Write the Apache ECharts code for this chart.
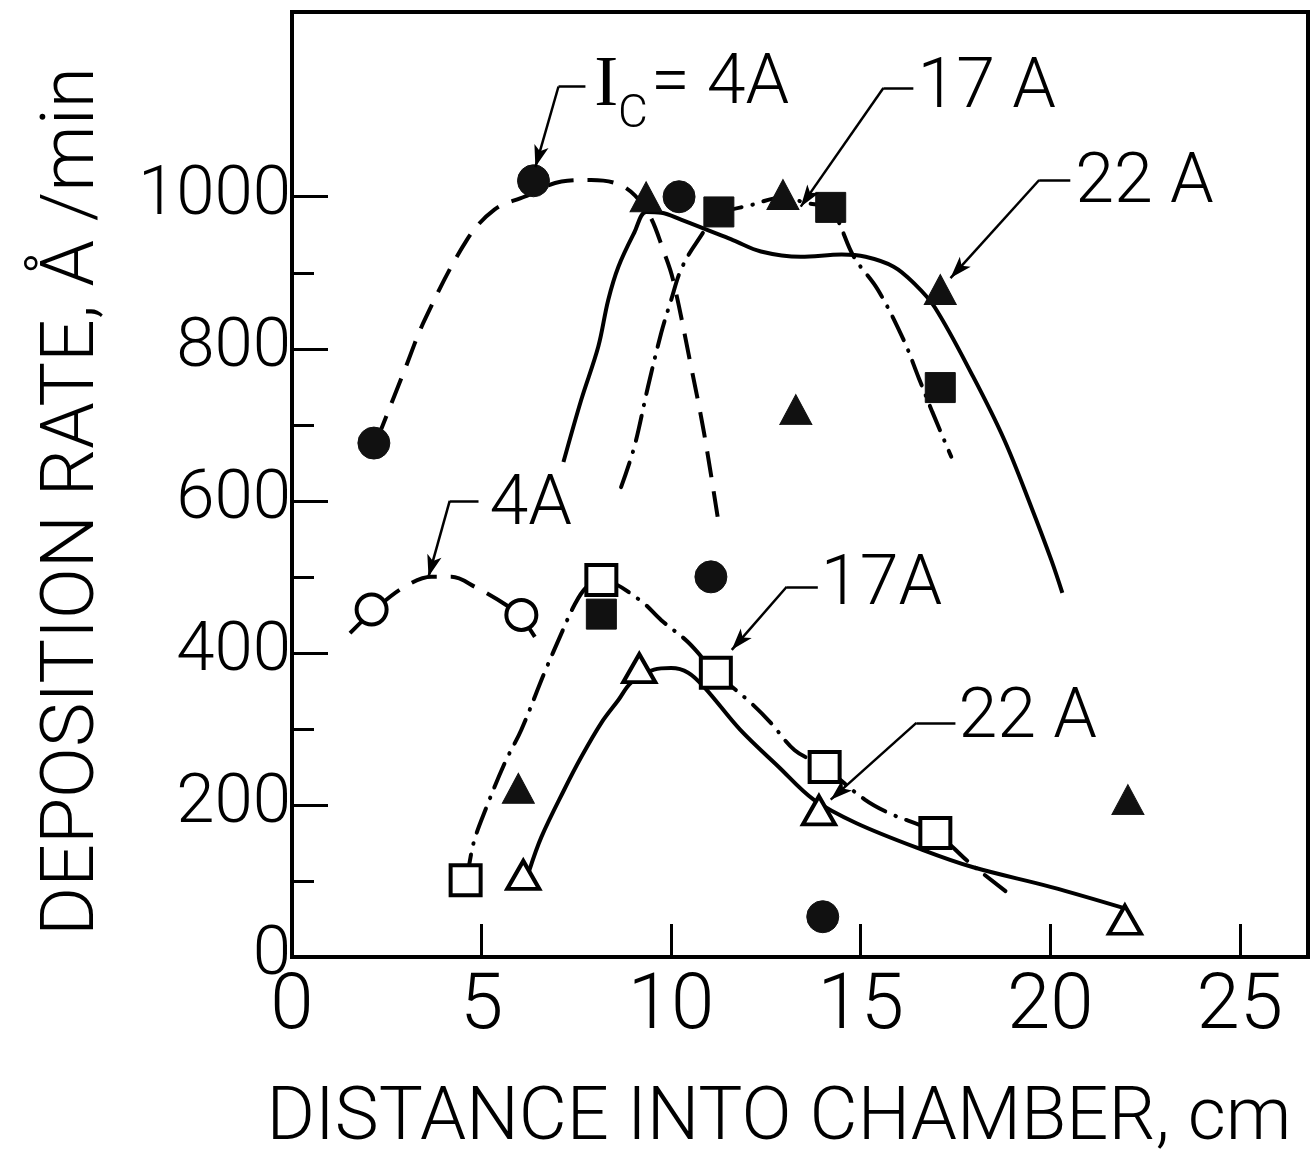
<!DOCTYPE html>
<html>
<head>
<meta charset="utf-8">
<title>Deposition rate vs distance into chamber</title>
<script src="https://cdn.jsdelivr.net/npm/echarts@6/dist/echarts.min.js"></script>
<style>
  html, body { margin: 0; padding: 0; background: #fff; }
  #chart { width: 1311px; height: 1161px; }
</style>
</head>
<body>
<div id="chart"></div>
<script>
// ---- axis ticks and labels ----
const xTickValues = [5, 10, 15, 20, 25];
const xLabelValues = [0, 5, 10, 15, 20, 25];
const yMajorValues = [0, 200, 400, 600, 800, 1000];
const yMinorValues = [100, 300, 500, 700, 900];

// ---- measured points [distance cm, rate A/min] ----
const filledCircles   = [[2.16, 676], [6.37, 1021], [10.21, 1000], [11.05, 500], [14.0, 53]];
const filledSquares   = [[11.26, 980], [14.21, 986], [17.1, 749], [8.16, 451]];
const filledTriangles = [[9.34, 1000], [12.95, 1003], [13.29, 720], [17.1, 878], [5.97, 222], [22.05, 207]];
const openCircles     = [[2.1, 457], [6.05, 450]];
const openSquares     = [[4.58, 101], [8.16, 496], [11.18, 374], [14.05, 250], [16.97, 163]];
const openTriangles   = [[6.1, 108], [9.16, 380], [13.9, 193], [21.97, 49]];

// ---- hand-fitted curves ----
const curveUpper4A = [[2.24, 680], [2.97, 772], [3.5, 838], [4.61, 943], [5.34, 983], [6.13, 1000], [7.11, 1020],
  [7.89, 1022], [8.76, 1013], [9.39, 979], [9.82, 926], [10.05, 891], [10.53, 776], [10.87, 689], [11.24, 575]];
const curveUpper17A = [[8.68, 618], [9.03, 671], [9.39, 750], [9.74, 821], [10.0, 864], [10.26, 904], [10.66, 939],
  [11.26, 976], [12.11, 989], [12.95, 999], [13.55, 992], [14.21, 983], [14.82, 921], [15.45, 878], [16.13, 812],
  [16.53, 762], [16.89, 717], [17.39, 658]];
const curveUpper22A = [[7.16, 651], [7.63, 733], [8.08, 803], [8.34, 864], [8.61, 908], [9.03, 953], [9.34, 980],
  [9.74, 979], [10.26, 970], [11.63, 943], [12.37, 928], [13.42, 921], [14.5, 924], [15.13, 921], [15.87, 908],
  [16.39, 887], [16.95, 855], [17.97, 763], [18.79, 680], [19.5, 592], [20.03, 522], [20.32, 479]];
const curveLower4A = [[1.53, 426], [2.18, 457], [2.97, 487], [3.68, 500], [4.21, 500], [4.82, 487], [5.71, 461],
  [6.05, 447], [6.58, 407]];
const curveLower17A = [[4.61, 101], [4.79, 150], [5.13, 197], [5.61, 255], [6.05, 299], [6.66, 374], [7.11, 426],
  [7.45, 463], [7.76, 486], [8.16, 496], [9.16, 470], [9.74, 443], [10.45, 414], [11.18, 374], [12.11, 334],
  [12.63, 308], [13.26, 272], [14.03, 250], [15.11, 207], [15.76, 189], [16.95, 164], [17.87, 124], [18.89, 84]];
const curveLower22A = [[6.26, 114], [6.58, 158], [7.18, 220], [7.63, 263], [8.16, 308], [8.61, 338], [8.95, 361],
  [9.55, 378], [10.0, 380], [10.45, 374], [10.89, 354], [11.82, 299], [12.84, 250], [13.76, 207], [14.89, 176],
  [16.63, 141], [17.97, 118], [20.03, 92], [21.97, 64]];

// ---- curve labels and their leaders ----
const noteTexts = [
  ['17 A', 16.5, 1141], ['22 A', 20.66, 1016],
  ['4A', 5.21, 592], ['17A', 13.95, 487], ['22 A', 17.58, 313],
  ['= 4A', 9.47, 1146]
];
const noteI = ['I', 7.97, 1146];
const noteSub = ['C', 8.6, 1107];
// each leader: [horizontal start, horizontal end, arrow tip]
const leaders = [
  [[7.03, 1145], [7.74, 1145], [6.42, 1039]],
  [[15.6, 1143], [16.39, 1143], [13.42, 987]],
  [[19.71, 1022], [20.53, 1022], [17.37, 893]],
  [[4.16, 600], [4.92, 600], [3.6, 500]],
  [[13.05, 487], [13.87, 487], [11.6, 404]],
  [[16.47, 308], [17.5, 308], [14.21, 207]]
];

const INK = '#000';
const FONT = 'Roboto, "Noto Sans", sans-serif';
const DASHED = [26, 14];
const DASHDOT = [26, 11, 0.5, 11];

function curve(data, dash) {
  return {
    type: 'line', data: data, smooth: 0.35, showSymbol: false, silent: true, z: 2,
    lineStyle: { color: INK, width: 4, type: dash, cap: dash === DASHDOT ? 'round' : 'butt' }
  };
}
function markers(data, symbol, size, filled) {
  return {
    type: 'scatter', data: data, symbol: symbol, symbolSize: size, silent: true, z: 4,
    itemStyle: filled
      ? { color: '#111', borderColor: '#111', borderWidth: 1, opacity: 1 }
      : { color: '#fff', borderColor: INK, borderWidth: 4, opacity: 1 }
  };
}
function textSeries(items, fontSize, family, weight) {
  return {
    type: 'scatter', symbolSize: 0, silent: true, z: 5,
    itemStyle: { opacity: 1 },
    data: items.map(t => ({ name: t[0], value: [t[1], t[2]] })),
    label: {
      show: true, position: 'right', distance: 0, formatter: '{b}',
      color: INK, fontSize: fontSize, fontFamily: family, fontWeight: weight,
      align: 'left', verticalAlign: 'middle'
    }
  };
}

const chart = echarts.init(document.getElementById('chart'), null, { renderer: 'canvas' });
chart.setOption({
  animation: false,
  backgroundColor: '#fff',
  grid: {
    left: 292, right: 3, top: 12, bottom: 204, containLabel: false, outerBoundsMode: 'none',
    show: true, borderColor: INK, borderWidth: 4
  },
  xAxis: [{
    type: 'value', min: 0, max: 26.8,
    axisLine: { show: true, lineStyle: { color: INK, width: 4 } },
    axisTick: { show: true, inside: true, length: 33, customValues: xTickValues, lineStyle: { color: INK, width: 3 } },
    axisLabel: { customValues: xLabelValues, color: INK, fontSize: 78, fontFamily: FONT, fontWeight: 300, margin: 12,
      formatter: v => String(v) },
    splitLine: { show: false },
    name: 'DISTANCE INTO CHAMBER, cm', nameLocation: 'middle', nameGap: 126,
    nameTextStyle: { color: INK, fontSize: 74, fontFamily: FONT, fontWeight: 300, padding: [0, 42, 0, 0] }
  }],
  yAxis: [{
    type: 'value', min: 0, max: 1243,
    axisLine: { show: true, lineStyle: { color: INK, width: 4 } },
    axisTick: { show: true, inside: true, length: 36, customValues: yMajorValues, lineStyle: { color: INK, width: 3 } },
    axisLabel: { customValues: yMajorValues, color: INK, fontSize: 69, fontFamily: FONT, fontWeight: 300, margin: 1,
      formatter: v => String(v) },
    splitLine: { show: false },
    name: 'DEPOSITION RATE, Å /min', nameLocation: 'middle', nameGap: 180,
    nameTextStyle: { color: INK, fontSize: 75, fontFamily: FONT, fontWeight: 300, padding: [0, 34, 0, 0] }
  }, {
    type: 'value', min: 0, max: 1243, position: 'left',
    axisLine: { show: false },
    axisTick: { show: true, inside: true, length: 22, customValues: yMinorValues, lineStyle: { color: INK, width: 3 } },
    axisLabel: { show: false },
    splitLine: { show: false }
  }],
  series: [
    curve(curveUpper4A, DASHED),
    curve(curveUpper17A, DASHDOT),
    curve(curveUpper22A, 'solid'),
    curve(curveLower4A, DASHED),
    curve(curveLower17A, DASHDOT),
    curve(curveLower22A, 'solid'),
    markers(filledCircles, 'circle', 32, true),
    markers(filledSquares, 'rect', 30, true),
    markers(filledTriangles, 'triangle', [32, 30], true),
    markers(openCircles, 'circle', 30, false),
    markers(openSquares, 'rect', 30, false),
    markers(openTriangles, 'triangle', [32, 28], false),
    textSeries(noteTexts, 70, FONT, 300),
    textSeries([noteI], 72, '"Liberation Serif", "DejaVu Serif", serif', 'normal'),
    textSeries([noteSub], 46, FONT, 300),
    {
      type: 'line', data: [], silent: true, z: 3,
      markLine: {
        silent: true, animation: false, symbol: ['none', 'none'],
        label: { show: false },
        lineStyle: { color: INK, width: 2.5, type: 'solid' },
        emphasis: { disabled: true },
        data: leaders.map(l => [{ coord: l[0] }, { coord: l[1] }])
      }
    },
    {
      type: 'line', data: [], silent: true, z: 3,
      markLine: {
        silent: true, animation: false, symbol: ['none', 'arrow'], symbolSize: [11, 22],
        label: { show: false },
        lineStyle: { color: INK, width: 2.5, type: 'solid' },
        emphasis: { disabled: true },
        data: leaders.map(l => [{ coord: l[0] }, { coord: l[2] }])
      }
    }
  ]
});
</script>
</body>
</html>
